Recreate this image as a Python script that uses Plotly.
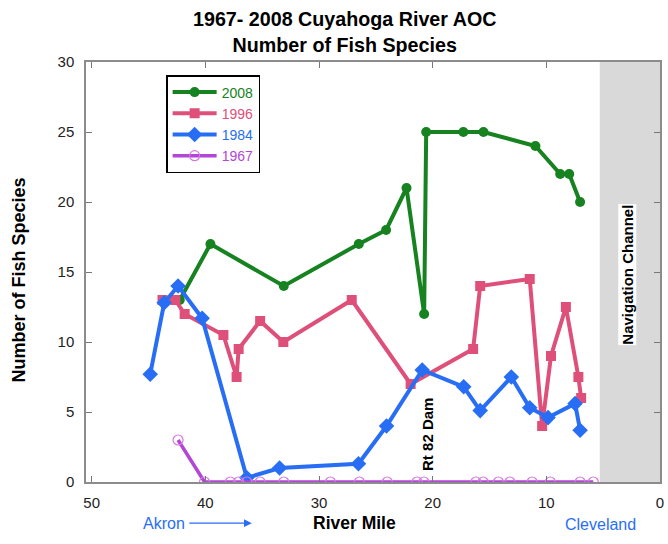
import plotly.graph_objects as go

# ---- data ----
miles_2008 = [42.25, 39.55, 33.1, 26.5, 24.1, 22.3, 20.75, 20.57, 17.3, 15.53, 10.96, 8.78, 7.99, 7.03]
fish_2008 = [13, 17, 14, 17, 18, 21, 12, 25, 25, 25, 24, 22, 22, 20]

miles_1996 = [43.77, 42.64, 41.82, 38.41, 37.25, 37.07, 35.18, 33.14, 27.12, 21.94, 16.44, 15.82, 11.46, 10.37, 9.59, 8.28, 7.18, 6.94]
fish_1996 = [13, 13, 12, 10.5, 7.5, 9.5, 11.5, 10, 13, 7, 9.5, 14, 14.5, 4, 9, 12.5, 7.5, 6]

miles_1984 = [44.85, 43.62, 42.4, 40.28, 36.35, 33.47, 26.53, 24.06, 20.92, 17.27, 15.82, 13.08, 11.46, 9.85, 7.47, 7.03]
fish_1984 = [7.7, 12.8, 14, 11.7, 0.3, 1, 1.3, 4, 8, 6.8, 5.1, 7.5, 5.3, 4.6, 5.6, 3.7]

miles_1967 = [42.4, 40.07, 37.8, 37.07, 36.35, 35.18, 33.1, 29.0, 26.45, 24.0, 21.38, 20.77, 16.2, 15.56, 14.22, 13.2, 11.25, 9.65, 7.03, 5.87]
fish_1967 = [3, 0, 0, 0, 0, 0, 0, 0, 0, 0, 0, 0, 0, 0, 0, 0, 0, 0, 0, 0]

x_ticks = [50, 40, 30, 20, 10, 0]
y_ticks = [0, 5, 10, 15, 20, 25, 30]
nav_channel_start = 5.3

GREEN = "rgb(22,130,32)"
PINK = "rgb(222,80,122)"
BLUE = "rgb(40,110,245)"
PURPLE = "rgb(178,70,215)"
FONT = "Liberation Sans, Arial, sans-serif"

fig = go.Figure()
fig.add_trace(go.Scatter(x=miles_2008, y=fish_2008, mode="lines+markers",
                         name=f"<span style='color:{GREEN}'>2008</span>",
                         line=dict(color=GREEN, width=4),
                         marker=dict(symbol="circle", size=10, color=GREEN)))
fig.add_trace(go.Scatter(x=miles_1996, y=fish_1996, mode="lines+markers",
                         name=f"<span style='color:{PINK}'>1996</span>",
                         line=dict(color=PINK, width=4),
                         marker=dict(symbol="square", size=10, color=PINK)))
fig.add_trace(go.Scatter(x=miles_1984, y=fish_1984, mode="lines+markers",
                         name=f"<span style='color:{BLUE}'>1984</span>",
                         line=dict(color=BLUE, width=4),
                         marker=dict(symbol="diamond", size=12, color=BLUE)))
fig.add_trace(go.Scatter(x=miles_1967, y=fish_1967, mode="lines+markers",
                         name=f"<span style='color:{PURPLE}'>1967</span>",
                         line=dict(color=PURPLE, width=3.5),
                         marker=dict(symbol="circle-open", size=10,
                                     color="rgb(215,120,225)", line=dict(width=1.2))))

fig.add_shape(type="rect", xref="x", yref="paper", x0=nav_channel_start, x1=-1,
              y0=0, y1=1, fillcolor="rgb(217,217,217)", line=dict(width=0), layer="below")

axis_common = dict(showgrid=False, zeroline=False, showline=True, linecolor="#8c8c8c",
                   linewidth=1.5, mirror="ticks", ticks="inside", ticklen=6,
                   tickcolor="#777", tickwidth=1,
                   tickfont=dict(family=FONT, size=15, color="#222"))

fig.update_layout(
    width=668, height=544,
    margin=dict(l=86, r=4, t=62, b=62),
    paper_bgcolor="white", plot_bgcolor="white",
    font=dict(family=FONT),
    showlegend=True,
    legend=dict(x=0.1396, y=0.969, xanchor="left", yanchor="top",
                bordercolor="black", borderwidth=1.5, bgcolor="white",
                font=dict(family=FONT, size=14), tracegroupgap=0,
                itemwidth=44),
    xaxis=dict(range=[50.5, 0], tickvals=x_ticks, ticklabelstandoff=6, **axis_common),
    yaxis=dict(range=[0, 30], tickvals=y_ticks, ticklabelstandoff=7, **axis_common),
    annotations=[
        dict(text="<b>1967- 2008 Cuyahoga River AOC<br>Number of Fish Species</b>",
             xref="paper", yref="paper", x=0.45, y=1.071, xanchor="center", yanchor="middle",
             showarrow=False, font=dict(family=FONT, size=19.7, color="black")),
        dict(text="<b>Number of Fish Species</b>", xref="paper", yref="paper",
             x=-0.1176, y=0.481, xanchor="center", yanchor="middle", textangle=-90,
             showarrow=False, font=dict(family=FONT, size=18, color="black")),
        dict(text="<b>River Mile</b>", xref="paper", yref="paper", x=0.467, y=-0.098,
             xanchor="center", yanchor="middle",
             showarrow=False, font=dict(family=FONT, size=17.5, color="black")),
        dict(text="Akron", xref="paper", yref="paper", x=0.136, y=-0.098,
             xanchor="center", yanchor="middle",
             showarrow=False, font=dict(family=FONT, size=16, color=BLUE)),
        dict(text="", xref="paper", yref="paper", x=0.2889, y=-0.098,
             ax=-64, ay=0, showarrow=True, arrowhead=2, arrowsize=1.3,
             arrowwidth=1.2, arrowcolor=BLUE),
        dict(text="Cleveland", xref="paper", yref="paper", x=0.896, y=-0.1,
             xanchor="center", yanchor="middle",
             showarrow=False, font=dict(family=FONT, size=16, color=BLUE)),
        dict(text="<b>Rt 82 Dam</b>", xref="x", yref="y", x=20.45, y=3.4,
             textangle=-90, showarrow=False,
             font=dict(family=FONT, size=15, color="black")),
        dict(text="<b>Navigation Channel</b>", xref="x", yref="y", x=2.84, y=14.79,
             textangle=-90, showarrow=False, bgcolor="white", borderpad=0,
             font=dict(family=FONT, size=15, color="black")),
    ],
)

fig.write_html("out.html", config={"displayModeBar": False},
               post_script="document.body.style.margin='0';document.body.style.overflow='hidden';")
